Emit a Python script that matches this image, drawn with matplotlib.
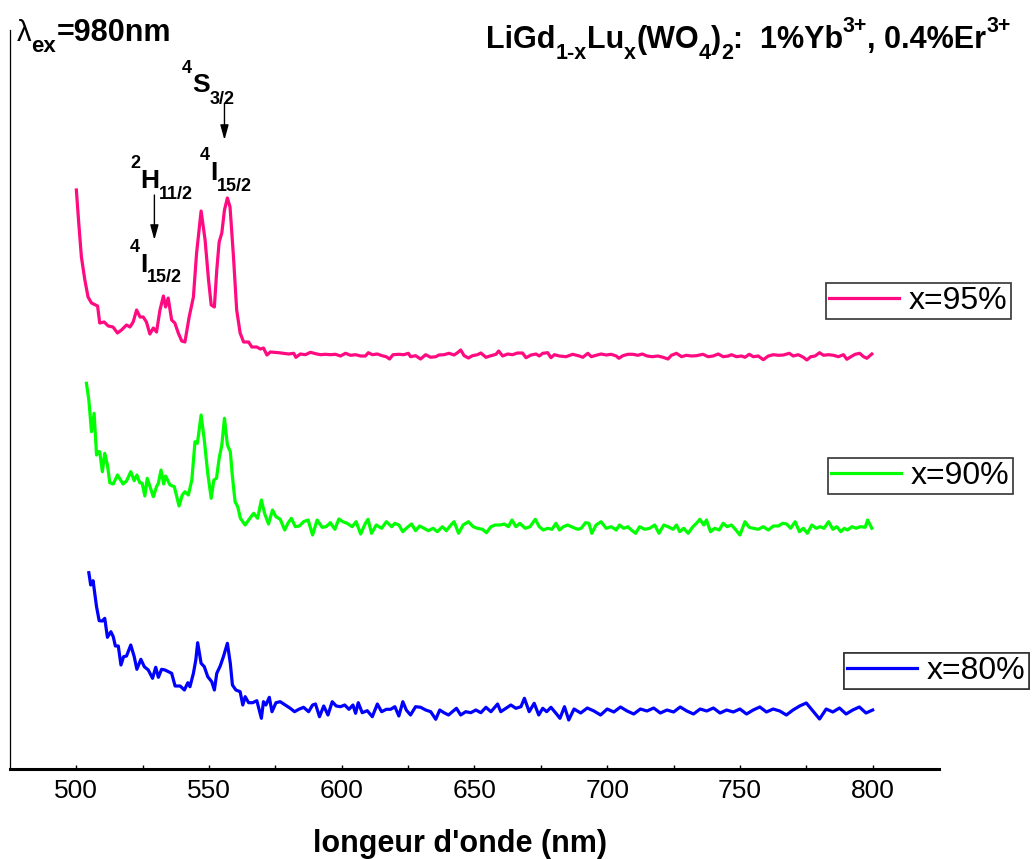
import matplotlib
matplotlib.use("Agg")
import matplotlib.pyplot as plt
from matplotlib.lines import Line2D

plt.rcParams['font.family'] = ['Liberation Sans', 'DejaVu Sans']

# ---- emission spectra (a.u.), x = Lu fraction ----
wl_95 = [500.0, 500.9, 501.9, 503.2, 504.4, 505.7, 508.0, 508.8, 510.5, 512.0,
         513.8, 515.5, 517.0, 518.9, 520.2, 521.4, 522.7, 524.0, 525.2, 526.4,
         527.7, 529.0, 530.2, 531.5, 532.8, 533.6, 534.6, 535.9, 537.1, 538.4,
         539.7, 540.9, 542.5, 544.1, 545.3, 547.0, 548.5, 549.8, 550.8, 552.0,
         552.9, 553.8, 554.8, 555.8, 556.9, 557.9, 559.2, 560.4, 561.7, 563.0,
         564.9, 566.1, 568.0, 569.3, 570.5, 571.8, 573.1,
         576.2, 578.1, 580.0, 581.9, 582.7, 584.4, 586.3, 588.2, 590.1, 592.0,
         593.8, 595.7, 597.6, 599.5, 601.4, 603.3, 605.2, 607.1, 608.9, 610.0,
         611.5, 613.4, 615.2, 616.7, 618.0, 619.3, 621.5, 623.4, 625.1, 625.9,
         627.8, 629.7, 631.6, 633.5, 635.4, 636.6, 638.5, 640.4, 642.3, 643.6,
         644.8, 646.1, 647.7, 649.2, 651.1, 652.4, 654.3, 656.2, 658.1, 659.1,
         660.6, 662.5, 664.3, 666.2, 668.1, 669.4, 671.3, 673.2, 674.4, 675.7,
         677.6, 678.8, 680.1,
         682.0, 684.5, 687.0, 689.5, 690.8, 692.7, 694.0, 695.8, 697.7, 699.6,
         701.5, 703.4, 704.4, 705.9, 707.8, 709.7, 711.6, 713.2, 715.0, 717.0,
         719.1, 721.0, 722.9, 724.2, 726.1, 728.0, 729.8, 731.7, 733.6, 736.1,
         738.0, 739.9, 741.8, 743.7, 745.6, 746.8, 748.7, 750.6, 751.9, 753.5,
         755.0, 756.9, 758.8, 760.7, 762.6, 764.5, 766.4, 768.6, 770.1, 772.0,
         773.9, 775.2, 776.7, 778.3, 780.0, 781.5, 783.4, 785.2, 787.1, 789.0,
         790.3, 791.8, 793.4, 795.1, 796.6, 797.8, 799.7]
int_95 = [184, 151, 117, 94, 77, 71, 68, 51, 52, 48,
          47, 41, 44, 49, 47, 52, 64, 57, 57, 52,
          40, 46, 42, 64, 78, 67, 76, 54, 51, 41,
          33, 32, 57, 77, 121, 163, 134, 94, 69, 67,
          104, 132, 141, 164, 176, 167, 117, 64, 41, 32,
          32, 27, 27, 25, 26, 19, 22,
          21.3, 20.7, 20.0, 20.7, 16.7, 20.0, 19.3, 21.7, 20.3, 19.3,
          19.7, 19.3, 19.7, 18.0, 20.7, 18.7, 19.3, 18.0, 18.0, 21.3,
          19.3, 20.0, 18.3, 17.3, 15.0, 19.3, 19.7, 19.3, 20.7, 17.3,
          18.3, 15.0, 19.3, 16.7, 17.3, 19.0, 19.3, 20.7, 19.0, 21.3,
          24.0, 18.3, 16.0, 18.3, 19.3, 21.0, 16.7, 18.3, 19.7, 23.0,
          18.0, 20.0, 19.3, 21.0, 21.0, 16.3, 19.0, 20.0, 18.0, 20.7,
          21.3, 16.3, 19.3,
          18.0, 17.3, 19.7, 18.0, 16.7, 20.7, 17.3, 18.7, 20.0, 19.0,
          19.7, 18.0, 15.7, 18.3, 19.7, 19.7, 18.7, 20.0, 18.0, 17.3,
          18.0, 16.7, 15.0, 18.7, 20.7, 17.3, 18.7, 18.0, 18.3, 19.7,
          17.3, 18.0, 20.0, 17.3, 18.0, 19.3, 17.3, 18.0, 16.7, 19.7,
          17.3, 18.0, 14.3, 18.0, 19.3, 18.7, 19.0, 20.7, 18.0, 19.3,
          16.7, 14.0, 17.3, 18.0, 21.3, 18.7, 19.3, 18.7, 17.3, 19.3,
          14.7, 17.3, 19.7, 20.7, 17.3, 15.7, 20.0]

wl_90 = [503.8, 504.7, 505.7, 506.7, 507.6, 508.2, 508.8, 509.8, 510.7, 511.7,
         512.6, 513.9, 515.5, 517.6, 518.9, 520.5, 521.8, 522.8, 523.9, 524.8,
         525.8, 526.7, 529.0, 530.2, 530.9, 531.9, 532.9, 533.6, 535.3, 536.9,
         538.7, 539.9, 540.9, 542.2, 543.5, 544.7, 545.6, 547.0, 548.2, 549.5,
         550.8, 551.8, 552.8, 553.8, 554.8, 555.8, 556.9, 558.0, 558.8, 559.8,
         560.8, 561.8, 563.6, 565.1, 566.8, 568.3, 569.7, 570.9, 572.4, 573.9,
         575.2, 576.8, 578.5, 579.7, 581.0, 582.5, 584.0, 585.6, 587.3, 589.0,
         590.7, 592.6, 594.1, 595.7, 597.4, 598.9, 600.4, 602.0, 603.9, 605.4,
         607.1, 608.9, 609.9, 611.2, 613.0, 615.0, 616.8, 618.8, 620.0, 621.5,
         623.0, 624.7, 626.3, 627.8, 629.3, 631.0, 632.6, 634.4, 636.0, 637.9,
         639.4, 641.1, 642.3, 644.0, 645.7, 647.7, 649.5, 651.1, 653.0, 654.5,
         656.2, 657.8, 659.6, 661.2, 662.8, 664.1, 665.6, 667.1, 669.1, 670.9,
         672.9, 674.4, 675.9, 677.6, 679.2, 680.7,
         682.0, 683.5, 685.1, 687.0, 688.9, 690.2, 691.8, 693.1, 694.2, 695.8,
         697.7, 699.6, 701.5, 703.4, 704.6, 706.2, 707.8, 709.1, 710.7, 712.2,
         714.1, 716.0, 717.9, 719.5, 721.3, 722.9, 724.8, 726.1, 727.3, 728.8,
         730.5, 732.1, 733.6, 734.9, 736.4, 737.4, 738.9, 740.5, 742.2, 743.7,
         745.2, 746.8, 748.5, 750.0, 751.9, 753.5, 755.0, 756.9, 758.8, 760.7,
         762.6, 764.5, 766.1, 767.6, 769.1, 770.8, 772.4, 773.9, 775.4, 777.1,
         778.7, 780.2, 781.7, 783.4, 785.0, 786.5, 788.0, 789.3, 790.5, 792.2,
         793.8, 795.3, 797.2, 798.1, 799.7]
int_90 = [163.7, 147.0, 115.3, 133.7, 92.0, 95.3, 95.3, 75.3, 93.7, 82.0,
          64.3, 63.0, 72.0, 63.0, 66.0, 75.3, 66.3, 72.0, 64.3, 63.7,
          51.0, 68.7, 50.3, 60.3, 63.7, 77.0, 63.0, 71.0, 62.0, 60.3,
          41.0, 52.0, 55.3, 52.0, 67.0, 105.3, 103.7, 132.0, 107.0, 73.7,
          48.7, 67.0, 68.7, 88.7, 102.0, 128.7, 102.0, 95.3, 70.3, 45.3,
          40.3, 28.7, 22.0, 27.7, 33.7, 28.7, 47.0, 33.7, 23.0, 37.0,
          30.3, 27.7, 17.0, 23.7, 28.7, 20.3, 21.0, 25.3, 27.0, 12.0,
          27.0, 19.7, 20.3, 24.3, 17.7, 28.0, 25.3, 23.7, 20.3, 25.3,
          13.0, 23.7, 27.7, 13.7, 22.0, 18.7, 25.3, 20.3, 23.7, 22.0,
          15.3, 19.7, 23.0, 16.3, 21.0, 18.7, 16.3, 18.7, 15.3, 20.3,
          16.3, 22.0, 25.3, 13.7, 22.0, 25.3, 20.3, 18.7, 17.7, 14.3,
          20.3, 22.0, 22.0, 23.0, 20.3, 27.0, 20.3, 23.7, 18.7, 20.3,
          27.7, 20.3, 17.0, 18.7, 17.7, 23.7,
          17.0, 20.3, 22.0, 19.7, 17.7, 18.7, 24.3, 23.7, 13.7, 22.0,
          25.3, 18.7, 20.3, 17.0, 22.0, 18.7, 20.3, 17.0, 13.7, 20.3,
          17.7, 18.7, 22.0, 13.7, 22.0, 20.3, 17.7, 22.0, 15.3, 18.7,
          13.7, 19.7, 23.7, 27.7, 22.0, 27.0, 15.3, 18.7, 17.0, 23.7,
          20.3, 22.0, 17.0, 12.0, 25.3, 19.7, 18.7, 17.7, 20.3, 17.0,
          21.0, 21.0, 23.7, 23.0, 18.7, 25.3, 15.3, 18.7, 13.7, 22.0,
          18.7, 20.3, 18.7, 25.3, 17.7, 20.3, 15.3, 18.7, 17.0, 20.3,
          18.7, 20.3, 19.7, 27.0, 18.7]

wl_80 = [504.7, 505.4, 506.3, 507.6, 508.6, 509.8, 510.7, 511.7, 513.0, 513.9,
         514.7, 515.8, 516.8, 517.8, 518.9, 520.5, 521.8, 522.8, 524.3, 525.6,
         527.1, 528.7, 529.9, 530.9, 532.1, 533.4, 535.9, 537.2, 539.1, 540.7,
         542.0, 542.8, 544.1, 545.0, 545.7, 547.0, 548.2, 549.5, 551.0, 552.0,
         552.9, 554.2, 555.4, 556.9, 558.0, 558.8, 560.1, 561.7, 562.7, 563.6,
         564.9, 566.4, 568.0, 569.7, 570.5, 571.4, 572.7, 573.7, 575.2,
         576.8, 578.7, 580.6, 582.2, 583.8, 585.6, 587.5, 589.0, 590.1, 591.6,
         593.2, 594.8, 596.4, 597.9, 599.5, 601.1, 602.7, 604.2, 605.2, 606.2,
         607.7, 609.6, 611.5, 613.4, 615.0, 616.8, 618.4, 620.0, 621.5, 623.0,
         624.3, 625.9, 627.8, 629.7, 631.6, 633.5, 635.4, 636.9, 638.5, 640.2,
         641.7, 643.2, 644.8, 646.7, 648.6, 650.5, 652.4, 654.3, 656.2, 658.7,
         659.9, 661.8, 663.7, 665.6, 667.5, 668.8, 670.6, 672.5, 674.2, 675.7,
         677.2, 678.8, 680.7, 682.2, 683.9, 685.5,
         687.5, 690.0, 692.5, 695.0, 697.5, 700.0, 702.5, 705.0, 707.5, 710.0,
         712.5, 715.0, 717.5, 720.0, 722.5, 725.0, 727.5, 730.0, 732.5, 735.0,
         737.5, 740.0, 742.5, 745.0, 747.5, 750.0, 752.5, 755.0, 757.5, 760.0,
         762.5, 765.0, 767.5, 770.0, 772.5, 775.0, 777.5, 780.0, 782.5, 785.0,
         787.5, 790.0, 792.5, 795.0, 797.5, 800.0]
int_80 = [150.3, 138.0, 142.3, 116.3, 102.3, 102.0, 104.7, 85.7, 91.3, 86.3,
          77.0, 77.0, 58.0, 66.3, 67.0, 78.0, 66.3, 53.7, 63.7, 56.3,
          53.0, 44.7, 55.7, 45.7, 53.7, 53.0, 49.7, 37.0, 37.0, 33.0,
          40.3, 36.3, 49.7, 63.0, 80.3, 59.7, 56.3, 46.3, 41.3, 33.0,
          49.7, 57.0, 66.3, 79.7, 59.7, 38.0, 33.0, 31.3, 18.0, 26.3,
          20.3, 20.3, 22.3, 4.7, 21.3, 18.0, 25.7, 11.3, 20.3,
          21.3, 18.0, 14.7, 11.3, 13.7, 15.7, 11.3, 18.0, 19.0, 6.3,
          17.0, 8.0, 21.3, 17.0, 16.3, 18.0, 13.7, 18.0, 9.7, 20.3,
          10.3, 12.3, 6.3, 19.0, 11.3, 13.7, 13.7, 16.3, 7.0, 21.3,
          13.0, 8.0, 16.3, 15.7, 13.0, 11.3, 3.7, 13.0, 10.3, 8.0,
          11.3, 14.7, 8.0, 11.3, 10.3, 13.0, 10.3, 15.7, 11.3, 19.0,
          11.3, 14.7, 18.0, 14.7, 16.3, 24.7, 11.3, 19.7, 8.0, 14.7,
          11.3, 15.7, 9.7, 4.7, 16.3, 3.0,
          14, 10, 15, 12, 8, 14, 11, 16, 12, 9,
          14, 12, 15, 10, 13, 11, 16, 12, 9, 14,
          12, 15, 10, 13, 11, 14, 9, 13, 16, 11,
          14, 12, 8, 13, 17, 20, 12, 4, 14, 11,
          15, 9, 13, 16, 10, 13]

labels = ['x=95%', 'x=90%', 'x=80%']
colors = ['#FF0A80', '#00FF00', '#0000FF']
offsets = [395, 222, 46]
spectra = [(wl_95, int_95), (wl_90, int_90), (wl_80, int_80)]
# top-left corner of each legend box, figure pixels
legend_corners = [(826, 283), (828, 458), (844, 653)]

W, H = 1036, 859
fig = plt.figure(figsize=(W / 100, H / 100), dpi=100)
ax = fig.add_axes([10 / W, 1 - 769 / H, 929 / W, 739 / H])
ax.set_xlim(475, 825)
ax.set_ylim(0, 739)

for (wl, inten), off, col, lab, (lx, ly) in zip(spectra, offsets, colors,
                                              labels, legend_corners):
    ax.plot(wl, [v + off for v in inten], color=col, lw=2.3,
            solid_joinstyle='round')
    leg = ax.legend([Line2D([], [], color=col, lw=2.3)], [lab],
                    loc='upper left', bbox_to_anchor=(lx / W, 1 - ly / H),
                    bbox_transform=fig.transFigure, borderaxespad=0,
                    fontsize=23, handlelength=2.2, handletextpad=0.3,
                    borderpad=0.1, fancybox=False, framealpha=1)
    leg.get_frame().set_edgecolor('#333333')
    leg.get_frame().set_linewidth(1.2)
    ax.add_artist(leg)

# spines and ticks
for s in ('top', 'right'):
    ax.spines[s].set_visible(False)
ax.spines['left'].set_linewidth(0.9)
ax.spines['bottom'].set_linewidth(2.2)
ax.set_yticks([])
ax.set_xticks([500, 550, 600, 650, 700, 750, 800])
ax.set_xticks([525, 575, 625, 675, 725, 775], minor=True)
ax.tick_params(axis='x', which='both', direction='in', length=3, width=1,
               labelsize=19, pad=7)
fig.text(460 / W, 1 - 852 / H, "longeur d'onde (nm)", fontsize=22,
         fontweight='bold', ha='center', va='baseline')

renderer = fig.canvas.get_renderer()


def text_runs(x0, base, parts):
    """Draw consecutive text pieces; each part = (text, size, weight, dy px)."""
    x = x0
    for txt, size, weight, dy in parts:
        t = fig.text(x / W, 1 - (base + dy) / H, txt, fontsize=size,
                     fontweight=weight, ha='left', va='baseline')
        x += t.get_window_extent(renderer).width


B = 'bold'
# transition labels
text_runs(182, 92, [('4', 13, B, -19), ('S', 19, B, 0), ('3/2', 13, B, 12)])
text_runs(200, 180, [('4', 13, B, -20), ('I', 19, B, 0), ('15/2', 13, B, 11)])
text_runs(130, 188, [('2', 13, B, -20), ('H', 19, B, 0), ('11/2', 13, B, 11)])
text_runs(130, 272, [('4', 13, B, -20), ('I', 19, B, 0), ('15/2', 13, B, 10)])
arrow = dict(arrowstyle='-|>,head_length=0.9,head_width=0.25', color='black',
             lw=1.0, shrinkA=0, shrinkB=0)
ax.annotate('', xy=(555.8, 629), xytext=(555.8, 666), arrowprops=arrow)
ax.annotate('', xy=(529.4, 529), xytext=(529.4, 574), arrowprops=arrow)

# excitation wavelength and composition
text_runs(17, 41, [('\u03bb', 21, 'normal', 0), ('ex', 16, B, 11),
                   ('=980nm', 22, B, 0)])
text_runs(486, 48, [('LiGd', 22, B, 0), ('1-x', 15.5, B, 11), ('Lu', 22, B, 0),
                    ('x', 15.5, B, 11), ('(WO', 22, B, 0), ('4', 15.5, B, 11),
                    (')', 22, B, 0), ('2', 15.5, B, 11), (':  1%Yb', 22, B, 0),
                    ('3+', 15.5, B, -16), (', 0.4%Er', 22, B, 0),
                    ('3+', 15.5, B, -16)])

fig.savefig('out.png', dpi=100)
